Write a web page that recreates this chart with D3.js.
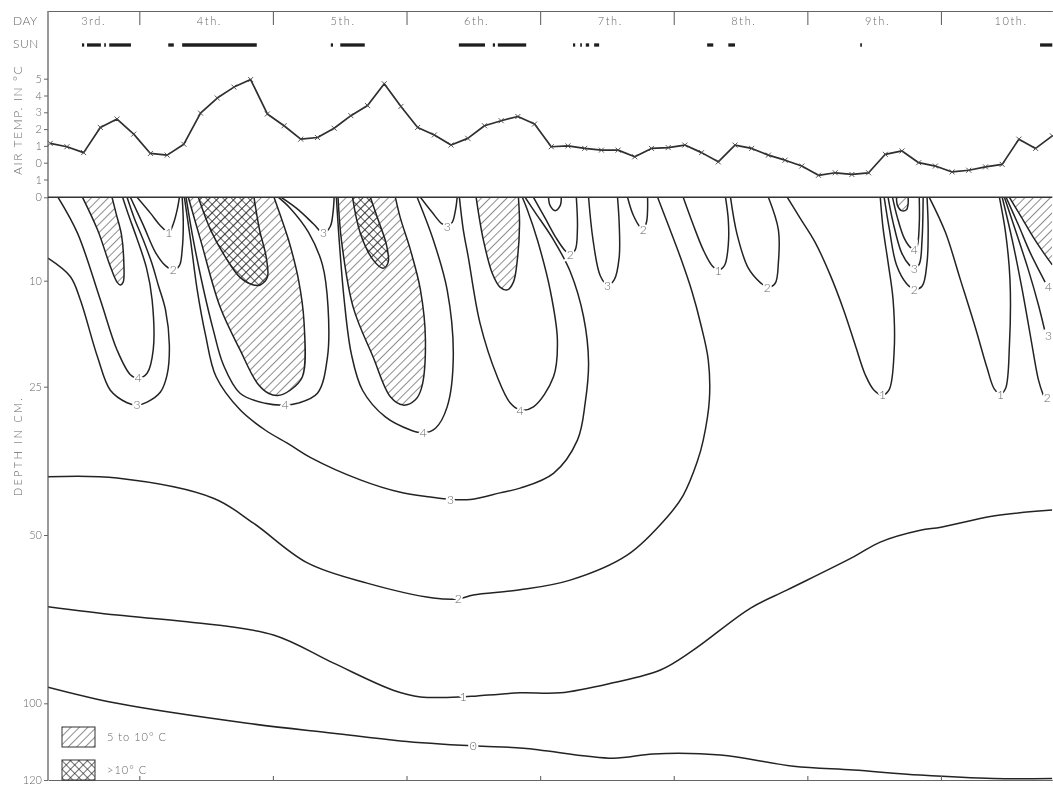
<!DOCTYPE html>
<html>
<head>
<meta charset="utf-8">
<script src="https://cdn.jsdelivr.net/npm/d3@7"></script>
<style>
  body { margin: 0; background: #fff; }
  svg { will-change: transform; }
  svg text { font-family: Lato, "Open Sans", "DejaVu Sans", sans-serif; font-weight: 300; fill: #666; }
</style>
</head>
<body>
<svg id="chart" width="1053" height="793"></svg>
<script>
// ---- time axis: hours after 00:00 on the 3rd ----
var dayLabels = ['3rd.', '4th.', '5th.', '6th.', '7th.', '8th.', '9th.', '10th.'];
var dayStarts = [0, 24, 48, 72, 96, 120, 144, 168];

// sunshine periods [from, to] in hours
var sunshine = [[13.7, 14.1], [14.6, 17.1], [17.7, 18.0], [18.6, 22.5], [29.2, 30.2], [31.7, 45.1],
  [58.4, 58.8], [60.1, 64.5], [81.4, 86.1], [87.5, 87.9], [88.4, 93.5], [101.9, 102.3],
  [103.2, 103.5], [104.2, 104.8], [105.7, 106.6], [126.0, 127.1], [129.8, 131.0],
  [153.5, 153.8], [185.8, 188]];

// 3-hourly air temperature readings
var airHours = [8, 11, 14, 17, 20, 23, 26, 29, 32, 35, 38, 41, 44, 47, 50, 53, 56, 59, 62, 65,
  68, 71, 74, 77, 80, 83, 86, 89, 92, 95, 98, 101, 104, 107, 110, 113, 116, 119, 122, 125,
  128, 131, 134, 137, 140, 143, 146, 149, 152, 155, 158, 161, 164, 167, 170, 173, 176, 179,
  182, 185, 188];
var airTemp = [1.15, 0.95, 0.6, 2.1, 2.6, 1.7, 0.55, 0.45, 1.1, 2.95, 3.85, 4.5, 4.95, 2.9, 2.2,
  1.4, 1.5, 2.05, 2.8, 3.4, 4.7, 3.35, 2.1, 1.65, 1.05, 1.45, 2.2, 2.5, 2.75, 2.3, 0.95, 1.0,
  0.85, 0.75, 0.75, 0.35, 0.85, 0.9, 1.05, 0.6, 0.05, 1.05, 0.85, 0.45, 0.15, -0.2, -0.75,
  -0.6, -0.7, -0.6, 0.5, 0.7, 0.0, -0.2, -0.55, -0.45, -0.25, -0.1, 1.4, 0.85, 1.6];
var tempTicks = [5, 4, 3, 2, 1, 0, -1];
var depthTicks = [0, 10, 25, 50, 100, 120];

// ---- isotherms, points are [hour, depth cm] ----
var iso3Day3 = [[7.6, 7.3], [11.6, 9.5], [13.4, 12.7], [16.5, 20.8], [18.8, 25.6], [21.8, 27.7], [23.6, 28.1],
  [25.4, 27.6], [27.8, 25.9], [29.0, 23.3], [29.4, 19.1], [28.7, 14.1], [27.4, 10.6], [26.2, 7.8],
  [24.7, 5.1], [23.1, 2.5], [21.8, 0]];
var iso4Day3 = [[9.4, 0], [12.9, 4.3], [17.0, 12.7], [20.0, 19.8], [22.4, 23.3], [23.8, 23.8], [25.4, 23.1],
  [26.5, 19.8], [26.3, 12.7], [25.3, 8.5], [23.5, 4.8], [22.0, 2.0], [21.0, 0]];
var iso1Day3 = [[23.6, 0], [26.0, 1.9], [27.8, 3.4], [29.3, 4.2], [30.1, 3.2], [30.8, 1.5], [31.2, 0]];
var iso2Day3 = [[22.4, 0], [24.7, 3.3], [26.9, 6.6], [28.7, 8.2], [30.1, 8.7], [31.2, 8.2], [31.7, 6.3],
  [31.9, 3.0], [31.7, 0]];
var iso3Main = [[32.1, 0], [33.2, 5.1], [34.4, 11.3], [35.9, 17.7], [37.8, 23.6], [42.1, 28.9], [46.6, 32.3],
  [51.1, 34.8], [54.7, 36.9], [63.7, 40.7], [70.9, 42.8], [76.3, 43.6], [79.9, 44.0], [83.5, 44.0],
  [88.8, 42.9], [92.4, 42.1], [98.4, 39.6], [102.7, 34.0], [104.1, 27.7], [104.7, 21.6], [103.8, 15.1],
  [101.4, 8.9], [98.4, 5.1], [95.1, 1.8], [93.3, 0]];
var iso4Day4 = [[32.4, 0], [33.7, 5.1], [35.5, 11.1], [37.3, 17.0], [39.1, 21.9], [42.1, 26.1], [46.6, 27.8],
  [50.2, 28.1], [52.4, 27.8], [56.0, 26.1], [57.8, 20.8], [57.9, 13.7], [56.9, 8.1], [54.4, 4.2],
  [51.1, 1.3], [49.0, 0]];
var iso3Day45 = [[49.5, 0], [52.6, 1.5], [55.3, 3.2], [57.1, 4.3], [58.3, 3.5], [58.8, 1.8], [59.0, 0]];
var iso4Day5 = [[59.4, 0], [59.9, 5.1], [60.8, 12.7], [62.1, 20.4], [64.1, 25.6], [68.2, 30.1], [72.7, 32.3],
  [75.0, 32.8], [77.2, 32.0], [79.3, 28.4], [80.4, 20.8], [79.3, 11.3], [76.8, 5.1], [73.9, 0]];
var iso3Day56 = [[74.5, 0], [76.6, 1.8], [78.4, 3.2], [79.3, 3.4], [80.2, 3.0], [80.8, 1.5], [81.1, 0]];
var iso4Day6 = [[81.5, 0], [82.2, 3.9], [83.1, 7.2], [85.2, 16.0], [88.3, 23.6], [90.6, 27.7], [92.4, 28.9],
  [94.8, 28.4], [98.4, 23.6], [99.1, 18.4], [97.8, 11.3], [95.5, 5.1], [93.7, 1.5], [92.8, 0]];
var iso2Day7 = [[94.8, 0], [96.9, 2.5], [98.9, 4.9], [100.5, 6.4], [101.4, 6.8], [102.3, 6.3], [102.7, 3.7],
  [102.5, 0]];
var iso1Day7 = [[97.5, 0], [97.8, 1.0], [98.7, 1.6], [99.6, 1.0], [99.8, 0]];
var iso3Day7 = [[104.7, 0], [105.5, 5.1], [106.8, 9.4], [108.1, 10.6], [109.3, 9.9], [110.2, 7.2],
  [110.2, 3.1], [109.9, 0]];
var iso2Day7b = [[111.7, 0], [112.7, 2.1], [114.0, 3.6], [114.5, 3.8], [115.1, 3.0], [115.3, 1.5], [115.3, 0]];
var iso2Main = [[7.6, 40.2], [20.0, 40.4], [37.3, 43.8], [44.5, 48.0], [54.2, 58.3], [64.9, 64.3],
  [76.8, 68.7], [81.3, 69.0], [84.0, 67.8], [92.4, 66.3], [101.4, 63.4], [111.7, 55.9], [118.8, 47.0],
  [121.7, 43.3], [124.2, 37.7], [125.3, 34.0], [126.4, 27.2], [126.2, 21.2], [124.9, 16.3],
  [123.3, 11.6], [121.2, 7.2], [119.0, 3.3], [117.1, 0]];
var iso1Day8 = [[121.7, 0], [123.5, 3.3], [125.3, 6.3], [126.9, 8.2], [128.0, 8.7], [129.1, 8.2],
  [129.8, 5.7], [129.8, 2.7], [129.3, 0]];
var iso2Day8 = [[130.2, 0], [131.4, 4.5], [133.4, 8.5], [135.6, 10.3], [136.8, 10.9], [138.2, 10.4],
  [138.8, 7.8], [138.8, 3.9], [137.0, 0]];
var iso1Day89 = [[140.4, 0], [142.7, 2.5], [145.4, 5.4], [148.1, 9.3], [150.5, 14.1], [152.6, 19.1],
  [154.4, 23.3], [155.9, 25.5], [157.5, 26.4], [158.7, 25.5], [159.6, 19.8], [159.4, 12.7],
  [158.5, 7.8], [157.6, 3.7], [157.1, 0]];
var iso2Day9 = [[157.8, 0], [158.7, 3.7], [160.0, 8.1], [161.8, 10.4], [163.2, 11.2], [164.6, 10.8],
  [165.5, 7.8], [165.7, 3.7], [165.5, 0]];
var iso3Day9 = [[158.5, 0], [159.4, 3.0], [160.9, 6.6], [162.3, 8.1], [163.2, 8.5], [164.1, 8.0],
  [164.6, 5.1], [164.8, 0]];
var iso4Day9 = [[159.3, 0], [160.2, 2.5], [161.4, 4.9], [162.5, 6.0], [163.2, 6.2], [163.7, 5.9],
  [164.1, 3.3], [164.1, 0]];
var iso1Day10 = [[165.9, 0], [168.8, 4.2], [171.5, 9.9], [174.2, 16.7], [176.3, 22.4], [177.6, 25.4],
  [178.7, 26.2], [179.6, 25.3], [180.3, 19.1], [180.4, 9.9], [179.6, 4.2], [178.5, 0]];
var iso2Day10 = [[179.0, 0], [180.8, 5.1], [182.6, 11.3], [184.2, 18.4], [185.5, 24.0], [186.4, 26.5]];
var iso3Day10 = [[179.4, 0], [181.5, 4.2], [183.7, 8.7], [185.5, 13.4], [186.6, 16.9]];
var iso4Day10 = [[179.7, 0], [181.9, 3.3], [184.0, 6.6], [185.8, 9.0], [186.7, 10.2]];
var iso1Deep = [[7.6, 71.3], [20.0, 73.8], [32.6, 75.8], [48.1, 79.7], [58.8, 88.0], [69.6, 96.1],
  [74.5, 98.1], [82.2, 98.1], [84.7, 97.8], [92.4, 96.9], [99.6, 96.9], [109.1, 93.9], [117.6, 90.1],
  [123.5, 84.2], [133.8, 71.7], [140.4, 66.3], [152.3, 56.5], [157.1, 52.1], [164.3, 49.2],
  [168.0, 48.7], [177.4, 46.8], [188, 45.8]];
var iso0 = [[7.6, 95.2], [20.0, 100], [43.4, 105.2], [58.8, 107.8], [70.9, 109.8], [84.0, 111.1],
  [93.0, 111.7], [109.1, 114.3], [116.3, 113.2], [128.4, 113.5], [141.5, 116.4], [152.3, 117.4],
  [164.3, 118.7], [177.4, 119.6], [188, 119.6]];

// 5 to 10 °C zones and >10 °C zones
var warmDay3 = [[13.8, 0], [16.5, 3.9], [18.8, 8.3], [20.0, 10.2], [20.6, 10.6], [21.1, 10.2], [21.2, 7.5],
  [20.8, 4.5], [19.9, 2.1], [19.1, 0]];
var warmDay4 = [[32.8, 0], [35.0, 5.1], [38.5, 13.7], [42.1, 19.8], [45.2, 24.5], [47.2, 26.1], [48.8, 26.5],
  [51.1, 25.6], [53.3, 23.6], [53.6, 16.0], [52.6, 9.9], [50.8, 5.1], [49.3, 2.1], [48.2, 0]];
var warmDay5 = [[59.7, 0], [60.3, 5.1], [62.4, 13.7], [66.0, 20.8], [69.1, 26.7], [71.4, 28.1], [73.6, 27.2],
  [74.7, 25.2], [75.4, 18.4], [74.5, 11.3], [72.7, 6.3], [70.9, 2.5], [70.0, 0]];
var warmDay6 = [[84.5, 0], [85.8, 5.1], [87.4, 9.1], [88.8, 10.9], [90.1, 11.3], [91.2, 10.2], [91.9, 7.5],
  [92.3, 3.3], [92.1, 0]];
var warmDay9 = [[160.0, 0], [160.2, 1.0], [160.9, 1.6], [161.8, 1.5], [162.1, 0.8], [162.1, 0]];
var warmDay10 = [[180.3, 0], [182.2, 2.1], [184.6, 4.8], [186.7, 6.9], [188, 8.1]];
var hotDay4 = [[34.6, 0], [36.8, 3.9], [39.5, 7.2], [42.1, 9.6], [44.5, 10.6], [45.7, 10.6], [47.0, 9.6],
  [46.8, 7.2], [45.6, 3.9], [44.6, 0]];
var hotDay5 = [[62.3, 0], [63.7, 4.3], [66.0, 7.5], [67.8, 8.5], [68.7, 7.8], [68.4, 5.7], [66.9, 2.7],
  [65.5, 0]];

// contour labels: [value, hour, depth]
var isoLabels = [[3, 23.6, 28.1], [4, 23.8, 23.8], [1, 29.3, 4.2], [2, 30.1, 8.7], [4, 50.2, 28.1],
  [3, 57.1, 4.3], [4, 75.0, 32.8], [3, 79.3, 3.5], [4, 92.4, 29.0], [3, 79.9, 44.0], [2, 81.3, 69.0],
  [1, 82.2, 98.1], [0, 84.0, 111.1], [2, 101.4, 6.9], [3, 108.1, 10.7], [2, 114.5, 3.9],
  [1, 128.0, 8.8], [2, 136.8, 11.0], [1, 157.5, 26.4], [4, 163.2, 6.3], [3, 163.2, 8.6],
  [2, 163.2, 11.3], [1, 178.7, 26.3], [4, 187.3, 10.8], [3, 187.3, 17.8], [2, 187.1, 26.9]];

var isolines = [iso3Day3, iso4Day3, iso1Day3, iso2Day3, iso3Main, iso4Day4, iso3Day45, iso4Day5,
  iso3Day56, iso4Day6, iso2Day7, iso1Day7, iso3Day7, iso2Day7b, iso2Main, iso1Day8, iso2Day8,
  iso1Day89, iso2Day9, iso3Day9, iso4Day9, iso1Day10, iso2Day10, iso3Day10, iso4Day10, iso1Deep, iso0];
var warmZones = [warmDay3, warmDay4, warmDay5, warmDay6, warmDay9, warmDay10];
var hotZones = [hotDay4, hotDay5];

// ---- drawing ----
var svg = d3.select('#chart');
var ink = '#232323', grey = '#666';

var x = d3.scaleLinear().domain([7.6, 188]).range([48, 1052.3]);
var yTemp = d3.scaleLinear().domain([-1, 5]).range([179.5, 78.7]);
var yDepth = d3.scaleLinear().domain(depthTicks).range([197.3, 280.7, 386.7, 535, 703.3, 780]);
var x0 = x.range()[0], x1 = x.range()[1];

svg.append('rect').attr('width', 1053).attr('height', 793).attr('fill', '#fff');

var defs = svg.append('defs');
var hatch = defs.append('pattern').attr('id', 'hatch').attr('patternUnits', 'userSpaceOnUse')
  .attr('width', 6).attr('height', 6).attr('patternTransform', 'rotate(45)');
hatch.append('line').attr('x1', 0).attr('y1', 0).attr('x2', 0).attr('y2', 6)
  .attr('stroke', '#2e2e2e').attr('stroke-width', 1.1);
var cross = defs.append('pattern').attr('id', 'cross').attr('patternUnits', 'userSpaceOnUse')
  .attr('width', 6).attr('height', 6).attr('patternTransform', 'rotate(45)');
cross.append('line').attr('x1', 0).attr('y1', 0).attr('x2', 0).attr('y2', 6)
  .attr('stroke', '#1e1e1e').attr('stroke-width', 1.3);
cross.append('line').attr('x1', 0).attr('y1', 0).attr('x2', 6).attr('y2', 0)
  .attr('stroke', '#1e1e1e').attr('stroke-width', 1.3);
defs.append('clipPath').attr('id', 'soil').append('rect')
  .attr('x', x0).attr('y', yDepth(0)).attr('width', x1 - x0).attr('height', yDepth(120) - yDepth(0));

var isoLine = d3.line()
  .x(function(d) { return x(d[0]); })
  .y(function(d) { return yDepth(d[1]); })
  .curve(d3.curveCatmullRom.alpha(0.5));

function zonePath(pts) {
  var last = pts[pts.length - 1], p = isoLine(pts);
  if (last[1] !== 0) p += 'L' + x(last[0]) + ',' + yDepth(0);
  return p + 'Z';
}

var soil = svg.append('g').attr('clip-path', 'url(#soil)');

soil.selectAll('path.warm').data(warmZones).enter().append('path')
  .attr('class', 'warm').attr('d', zonePath).attr('fill', 'url(#hatch)');
soil.selectAll('path.hot').data(hotZones).enter().append('path')
  .attr('class', 'hot').attr('d', zonePath).attr('fill', 'url(#cross)');

soil.selectAll('path.iso').data(isolines.concat(warmZones, hotZones)).enter().append('path')
  .attr('class', 'iso').attr('d', isoLine)
  .attr('fill', 'none').attr('stroke', ink).attr('stroke-width', 1.5)
  .attr('stroke-linejoin', 'round');

soil.selectAll('text.lab').data(isoLabels).enter().append('text')
  .attr('class', 'lab')
  .attr('x', function(d) { return x(d[1]); })
  .attr('y', function(d) { return yDepth(d[2]); })
  .attr('dy', '0.35em').attr('text-anchor', 'middle')
  .attr('font-size', 12)
  .attr('stroke', '#fff').attr('stroke-width', 4).attr('paint-order', 'stroke')
  .text(function(d) { return d[0]; });

// frame and axes
svg.append('line').attr('x1', x0).attr('x2', x0).attr('y1', 11).attr('y2', yDepth(120))
  .attr('stroke', '#555').attr('stroke-width', 1.2);
svg.append('line').attr('x1', x0).attr('x2', x1).attr('y1', yDepth(0)).attr('y2', yDepth(0))
  .attr('stroke', '#333').attr('stroke-width', 1.4);

var topAxis = svg.append('g').attr('transform', 'translate(0,11)')
  .call(d3.axisBottom(x).tickValues(dayStarts.slice(1)).tickSize(14).tickSizeOuter(0).tickFormat(''));
var bottomAxis = svg.append('g').attr('transform', 'translate(0,' + yDepth(120) + ')')
  .call(d3.axisBottom(x).tickValues(dayStarts.slice(1)).tickSize(-4).tickSizeOuter(0).tickFormat(''));
[topAxis, bottomAxis].forEach(function(g) {
  g.selectAll('path, line').attr('stroke', '#666').attr('stroke-width', 1.1);
});

var tempAxis = svg.append('g').attr('transform', 'translate(' + x0 + ',0)')
  .call(d3.axisLeft(yTemp).tickValues(tempTicks).tickSize(4).tickPadding(2)
    .tickFormat(function(d) { return Math.abs(d); }));
var depthAxis = svg.append('g').attr('transform', 'translate(' + x0 + ',0)')
  .call(d3.axisLeft(yDepth).tickValues(depthTicks).tickSize(4).tickPadding(2));
[tempAxis, depthAxis].forEach(function(g) {
  g.select('.domain').remove();
  g.selectAll('line').attr('stroke', '#666');
  g.selectAll('text').attr('font-size', 11).attr('font-family', null).attr('fill', grey);
});

// day strip: first label centred in the visible part of the 3rd, others ~12.6 h after midnight
svg.selectAll('text.day').data(dayLabels).enter().append('text')
  .attr('class', 'day')
  .attr('x', function(d, i) {
    if (i === 0) return (x0 + x(dayStarts[1])) / 2;
    return x(dayStarts[i] + 12.6);
  })
  .attr('y', 25).attr('text-anchor', 'middle').attr('font-size', 11).attr('letter-spacing', 1.6)
  .text(function(d) { return d; });
svg.append('text').attr('x', 13).attr('y', 25).attr('font-size', 12).attr('letter-spacing', 0.5).text('DAY');
svg.append('text').attr('x', 13).attr('y', 48).attr('font-size', 12).attr('letter-spacing', 0.5).text('SUN');

svg.selectAll('line.sun').data(sunshine).enter().append('line')
  .attr('class', 'sun')
  .attr('x1', function(d) { return x(d[0]); }).attr('x2', function(d) { return x(d[1]); })
  .attr('y1', 45).attr('y2', 45)
  .attr('stroke', '#1e1e1e').attr('stroke-width', 3.3);

// air temperature
var airPts = airHours.map(function(h, i) { return [h, airTemp[i]]; });
svg.append('path').datum(airPts)
  .attr('d', d3.line().x(function(d) { return x(d[0]); }).y(function(d) { return yTemp(d[1]); }))
  .attr('fill', 'none').attr('stroke', '#2e2e2e').attr('stroke-width', 1.7).attr('stroke-linejoin', 'round');
svg.selectAll('path.mark').data(airPts).enter().append('path')
  .attr('class', 'mark')
  .attr('transform', function(d) { return 'translate(' + x(d[0]) + ',' + yTemp(d[1]) + ')'; })
  .attr('d', 'M-2.5,-2.5L2.5,2.5M-2.5,2.5L2.5,-2.5')
  .attr('stroke', '#444').attr('stroke-width', 0.9);

// axis titles
svg.append('text').attr('transform', 'translate(22,' + yTemp(2.55) + ') rotate(-90)')
  .attr('text-anchor', 'middle').attr('font-size', 12).attr('letter-spacing', 1.6)
  .text('AIR TEMP. IN °C');
svg.append('text').attr('transform', 'translate(22,' + yDepth(35) + ') rotate(-90)')
  .attr('text-anchor', 'middle').attr('font-size', 11).attr('letter-spacing', 2.3)
  .text('DEPTH IN CM.');

// legend
var legendItems = [['url(#hatch)', '5 to 10° C'], ['url(#cross)', '>10° C']];
var legend = svg.append('g').attr('transform', 'translate(62,727)');
var item = legend.selectAll('g').data(legendItems).enter().append('g')
  .attr('transform', function(d, i) { return 'translate(0,' + (i * 33) + ')'; });
item.append('rect').attr('width', 33).attr('height', 20)
  .attr('fill', function(d) { return d[0]; }).attr('stroke', '#333').attr('stroke-width', 1);
item.append('text').attr('x', 45).attr('y', 14).attr('font-size', 11).attr('letter-spacing', 1)
  .text(function(d) { return d[1]; });
</script>
</body>
</html>
